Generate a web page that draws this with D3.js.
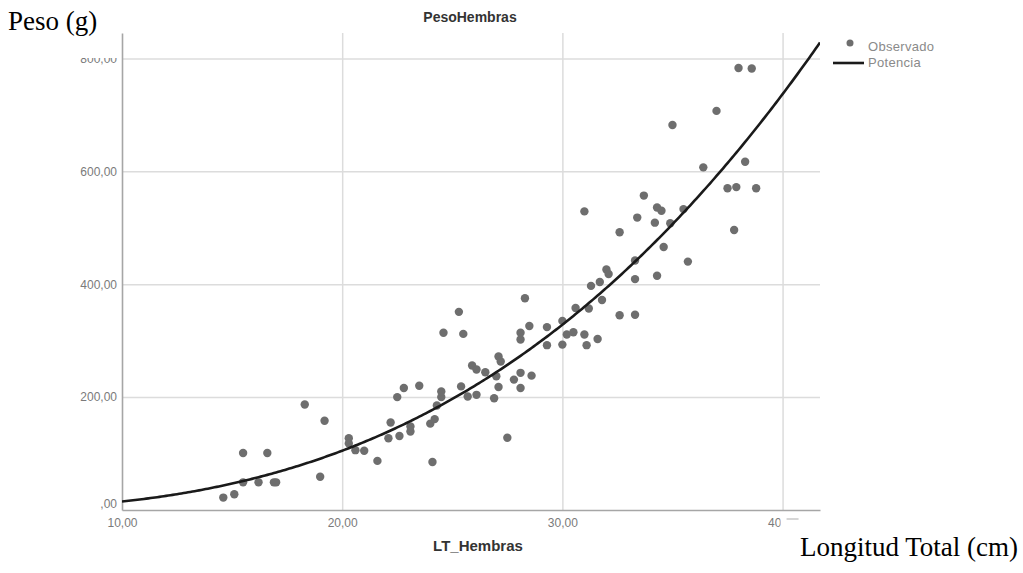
<!DOCTYPE html>
<html>
<head>
<meta charset="utf-8">
<script src="https://cdn.jsdelivr.net/npm/d3@7"></script>
<style>
  body { margin: 0; background: #fff; }
  svg { display: block; }
  .tick text { font-family: "Liberation Sans", Arial, sans-serif; font-size: 12px; fill: #7a7a7a; }
  .grid line { stroke: #dcdcdc; stroke-width: 1.5; }
  .axis path { stroke: #a6a6a6; stroke-width: 1.6; }
</style>
</head>
<body>
<svg id="chart" width="1023" height="573"></svg>
<script>
// LT_Hembras (cm) / PesoHembras (g)
const longitud = [14.6, 15.1, 15.5, 15.5, 16.2, 16.6, 16.9, 17.0, 18.3, 19.0,
  19.2, 20.3, 20.3, 20.6, 21.0, 21.6, 22.1, 22.2, 22.5, 22.6,
  22.8, 23.1, 23.1, 23.5, 24.0, 24.1, 24.2, 24.3, 24.5, 24.5,
  24.6, 25.3, 25.4, 25.5, 25.7, 25.9, 26.1, 26.1, 26.5, 26.9,
  27.0, 27.1, 27.1, 27.2, 27.5, 27.8, 28.1, 28.1, 28.1, 28.1,
  28.3, 28.5, 28.6, 29.3, 29.3, 30.0, 30.0, 30.2, 30.5, 30.6,
  31.0, 31.0, 31.1, 31.2, 31.3, 31.6, 31.7, 31.8, 32.0, 32.1,
  32.6, 32.6, 33.3, 33.3, 33.3, 33.4, 33.7, 34.2, 34.3, 34.3,
  34.5, 34.6, 34.9, 35.0, 35.5, 35.7, 36.4, 37.0, 37.5, 37.8,
  37.9, 38.0, 38.3, 38.6, 38.8];
const peso = [22, 28, 49, 101, 49, 101, 49, 49, 187, 59,
  158, 127, 118, 106, 105, 87, 127, 155, 200, 131,
  216, 139, 148, 220, 153, 85, 161, 185, 200, 210,
  314, 351, 219, 312, 201, 256, 204, 249, 244, 198,
  237, 272, 218, 263, 128, 231, 243, 216, 314, 302,
  375, 326, 238, 292, 324, 335, 293, 311, 315, 358,
  529, 311, 292, 357, 397, 303, 404, 372, 426, 418,
  492, 345, 442, 409, 346, 518, 557, 509, 536, 415,
  530, 466, 508, 682, 533, 440, 607, 707, 570, 496,
  572, 783, 617, 782, 570];

const xTicks = [10, 20, 30, 40];
const yTicks = [0, 200, 400, 600, 800];

// Potencia fit: peso = a * longitud^b
const potA = 0.0232;
const potB = 2.81;

const svg = d3.select('#chart');
const mLeft = 122, mRight = 820, mTop = 33, mBottom = 510;

const x = d3.scaleLinear().domain([10, 41.7]).range([mLeft, mRight]);
const y = d3.scaleLinear().domain([0, 845]).range([mBottom, mTop]);

const fmt = (d) => d === 0 ? ',00' : d3.format('.2f')(d).replace('.', ',');

// grid
svg.append('g')
  .attr('class', 'grid')
  .attr('transform', `translate(0,${mBottom})`)
  .call(d3.axisBottom(x).tickValues(xTicks.slice(1)).tickSize(-(mBottom - mTop)).tickFormat(''))
  .call(g => g.select('.domain').remove());
svg.append('g')
  .attr('class', 'grid')
  .attr('transform', `translate(${mLeft},0)`)
  .call(d3.axisLeft(y).tickValues(yTicks.slice(1)).tickSize(-(mRight - mLeft)).tickFormat(''))
  .call(g => g.select('.domain').remove());

// axes
svg.append('g')
  .attr('class', 'axis')
  .attr('transform', `translate(0,${mBottom})`)
  .call(d3.axisBottom(x).tickValues(xTicks).tickSize(0).tickPadding(8).tickFormat(fmt));
const yAxis = svg.append('g')
  .attr('class', 'axis')
  .attr('transform', `translate(${mLeft},0)`)
  .call(d3.axisLeft(y).tickValues(yTicks).tickSize(0).tickPadding(5).tickFormat(fmt));
yAxis.selectAll('.tick').filter(d => d === 0).select('text').attr('dy', '-0.2em');

// the source image has the top and last labels partly covered
svg.append('rect').attr('x', 60).attr('y', 46).attr('width', 58).attr('height', 12).attr('fill', '#fff');
svg.append('rect').attr('x', x(40) - 2).attr('y', mBottom + 6).attr('width', 22).attr('height', 18).attr('fill', '#fff');
svg.append('line').attr('x1', x(40) + 4).attr('x2', x(40) + 16)
  .attr('y1', mBottom + 9).attr('y2', mBottom + 9).attr('stroke', '#c8c8c8').attr('stroke-width', 1.5);

// points
svg.append('g')
  .selectAll('circle')
  .data(longitud)
  .join('circle')
  .attr('cx', d => x(d))
  .attr('cy', (d, i) => y(peso[i]))
  .attr('r', 4.2)
  .attr('fill', '#6e6e6e');

// fitted curve
svg.append('clipPath').attr('id', 'plot')
  .append('rect').attr('x', mLeft).attr('y', mTop).attr('width', mRight - mLeft).attr('height', mBottom - mTop);
const curveX = d3.range(10, 41.75, 0.1);
const line = d3.line().x(d => x(d)).y(d => y(potA * Math.pow(d, potB)));
svg.append('path')
  .datum(curveX)
  .attr('clip-path', 'url(#plot)')
  .attr('d', line)
  .attr('fill', 'none')
  .attr('stroke', '#1a1a1a')
  .attr('stroke-width', 2.6);

// titles
svg.append('text')
  .attr('x', 470).attr('y', 22)
  .attr('text-anchor', 'middle')
  .style('font', 'bold 14px "Liberation Sans", Arial, sans-serif')
  .attr('fill', '#333')
  .text('PesoHembras');
svg.append('text')
  .attr('x', 478).attr('y', 551)
  .attr('text-anchor', 'middle')
  .style('font', 'bold 15px "Liberation Sans", Arial, sans-serif')
  .attr('fill', '#333')
  .text('LT_Hembras');
svg.append('text')
  .attr('x', 8).attr('y', 30)
  .style('font', '27px "Liberation Serif", "Times New Roman", serif')
  .attr('fill', '#000')
  .text('Peso (g)');
svg.append('text')
  .attr('x', 800).attr('y', 556)
  .style('font', '27px "Liberation Serif", "Times New Roman", serif')
  .attr('fill', '#000')
  .text('Longitud Total (cm)');

// legend
const legend = svg.append('g')
  .style('font', '13px "Liberation Sans", Arial, sans-serif')
  .style('letter-spacing', '0.3px');
legend.append('circle').attr('cx', 850).attr('cy', 43).attr('r', 3.5).attr('fill', '#6e6e6e');
legend.append('text').attr('x', 868).attr('y', 51).attr('fill', '#8a8a8a').text('Observado');
legend.append('line').attr('x1', 833).attr('x2', 864).attr('y1', 63).attr('y2', 63)
  .attr('stroke', '#1a1a1a').attr('stroke-width', 2.6);
legend.append('text').attr('x', 868).attr('y', 67).attr('fill', '#8a8a8a').text('Potencia');
</script>
</body>
</html>
